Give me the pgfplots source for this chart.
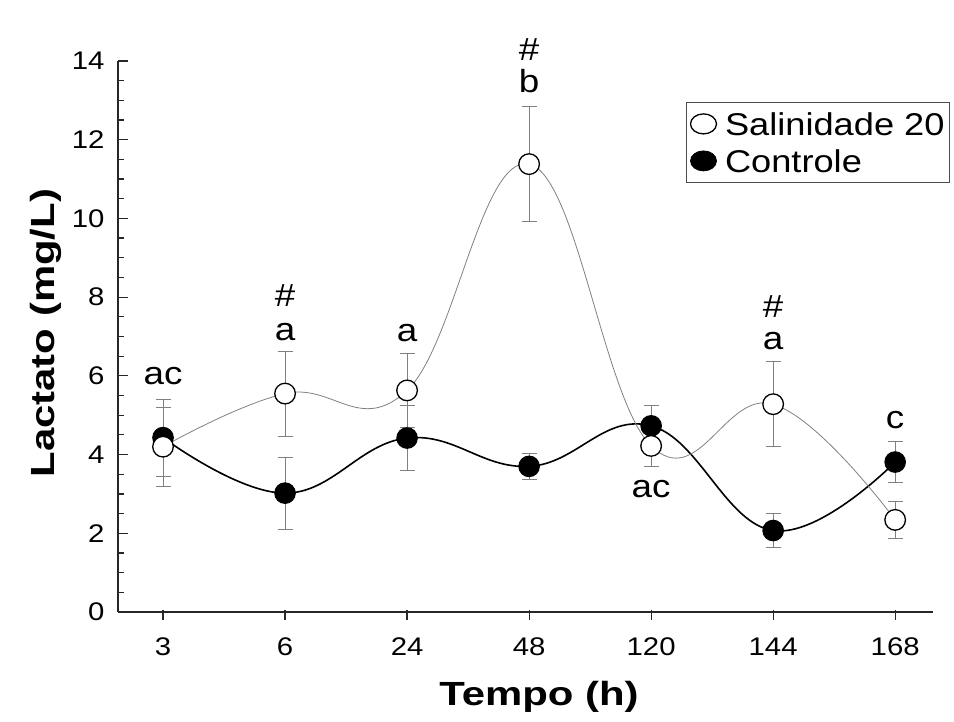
\documentclass[border=0pt]{standalone}
\usepackage{fontspec}
\setmainfont{Liberation Sans}[FakeStretch=1.15, BoldFeatures={FakeStretch=1.25}]
\usepackage{pgfplots}
\pgfplotsset{compat=1.18}
\pgfplotstableread{
x y e
0 4.20 1.00
1 5.55 1.08
2 5.63 0.93
3 11.38 1.46
4 4.22 0.52
5 5.28 1.08
6 2.34 0.48
}\salin
\pgfplotstableread{
x y e
0 4.43 0.98
1 3.02 0.91
2 4.42 0.83
3 3.70 0.33
4 4.73 0.53
5 2.07 0.44
6 3.81 0.53
}\contr
\begin{document}
\begin{tikzpicture}
\useasboundingbox (-118pt,-110pt) rectangle (836pt,612pt);
\begin{axis}[
  at={(0pt,0pt)}, anchor=south west,
  scale only axis, width=815pt, height=551pt,
  xmin=-0.369, xmax=6.31, ymin=0, ymax=14,
  axis x line*=bottom, axis y line*=left,
  axis line style={-, line width=1.4pt, black!85},
  xtick={0,...,6}, xticklabels={3,6,24,48,120,144,168},
  ytick={0,2,...,14}, minor y tick num=3,
  tick align=inside,
  major tick length=10pt, minor tick length=6pt,
  every tick/.style={line width=1.2pt, black!85},
  xtick style={yshift=-8pt},
  /pgf/number format/assume math mode=true,
  ticklabel style={font=\fontsize{25.5}{30}\selectfont},
  yticklabel style={xshift=-10pt},
  xticklabel style={yshift=-22pt},
  xlabel={Tempo (h)}, ylabel={Lactato (mg/L)},
  label style={font=\bfseries\fontsize{33.5}{38}\selectfont},
  xlabel style={at={(axis description cs:0.5166,-0.1706)}, anchor=base},
  ylabel style={at={(axis description cs:-0.0773,0.506)}, anchor=base, rotate=0},
  clip=false,
  legend style={at={(rel axis cs:1.0208,0.9256)}, anchor=north east,
    draw=black!70, line width=0.8pt, fill=white,
    font=\fontsize{31.5}{36}\selectfont, inner sep=3pt, row sep=0pt,
    nodes={inner sep=2pt, text height=28pt, text depth=5pt}},
  legend cell align=left,
  legend image code/.code={\path[draw=none,fill=none] (0pt,0pt) -- (34pt,0pt); \draw[#1] plot coordinates {(14.5pt,0pt)};},
]
\addlegendimage{only marks, mark=*, mark size=10pt, mark options={fill=white, draw=black, line width=1.3pt, xscale=1.3}}
\addlegendentry{Salinidade 20}
\addlegendimage{only marks, mark=*, mark size=10pt, mark options={fill=black, draw=black, xscale=1.3}}
\addlegendentry{Controle}

\addplot+[forget plot, black, line width=1.6pt, smooth, tension=0.7,
  mark=*, mark size=10.3pt, mark options={fill=black, draw=black, line width=1pt},
  error bars/.cd, y dir=both, y explicit,
  error bar style={draw=black!50, line width=0.9pt},
  error mark options={rotate=90, mark size=7.5pt, draw=black!50, line width=0.9pt}]
  table[x=x, y=y, y error=e] {\contr};
\addplot+[forget plot, black!50, line width=0.8pt, smooth, tension=0.7,
  mark=*, mark size=10.3pt, mark options={fill=white, draw=black, line width=1.3pt},
  error bars/.cd, y dir=both, y explicit,
  error bar style={draw=black!50, line width=0.9pt},
  error mark options={rotate=90, mark size=7.5pt, draw=black!50, line width=0.9pt}]
  table[x=x, y=y, y error=e] {\salin};

\begin{scope}[every node/.style={font=\fontsize{32}{36}\selectfont, anchor=base, inner sep=0pt}]
\node at (axis cs:0,5.77) {ac};
\node at (axis cs:1,7.75) {\#};
\node at (axis cs:1,6.91) {a};
\node at (axis cs:2,6.88) {a};
\node at (axis cs:3,14.02) {\#};
\node at (axis cs:3,13.19) {b};
\node at (axis cs:4,2.90) {ac};
\node at (axis cs:5,7.47) {\#};
\node at (axis cs:5,6.66) {a};
\node at (axis cs:6,4.67) {c};
\end{scope}
\end{axis}
\end{tikzpicture}
\end{document}
